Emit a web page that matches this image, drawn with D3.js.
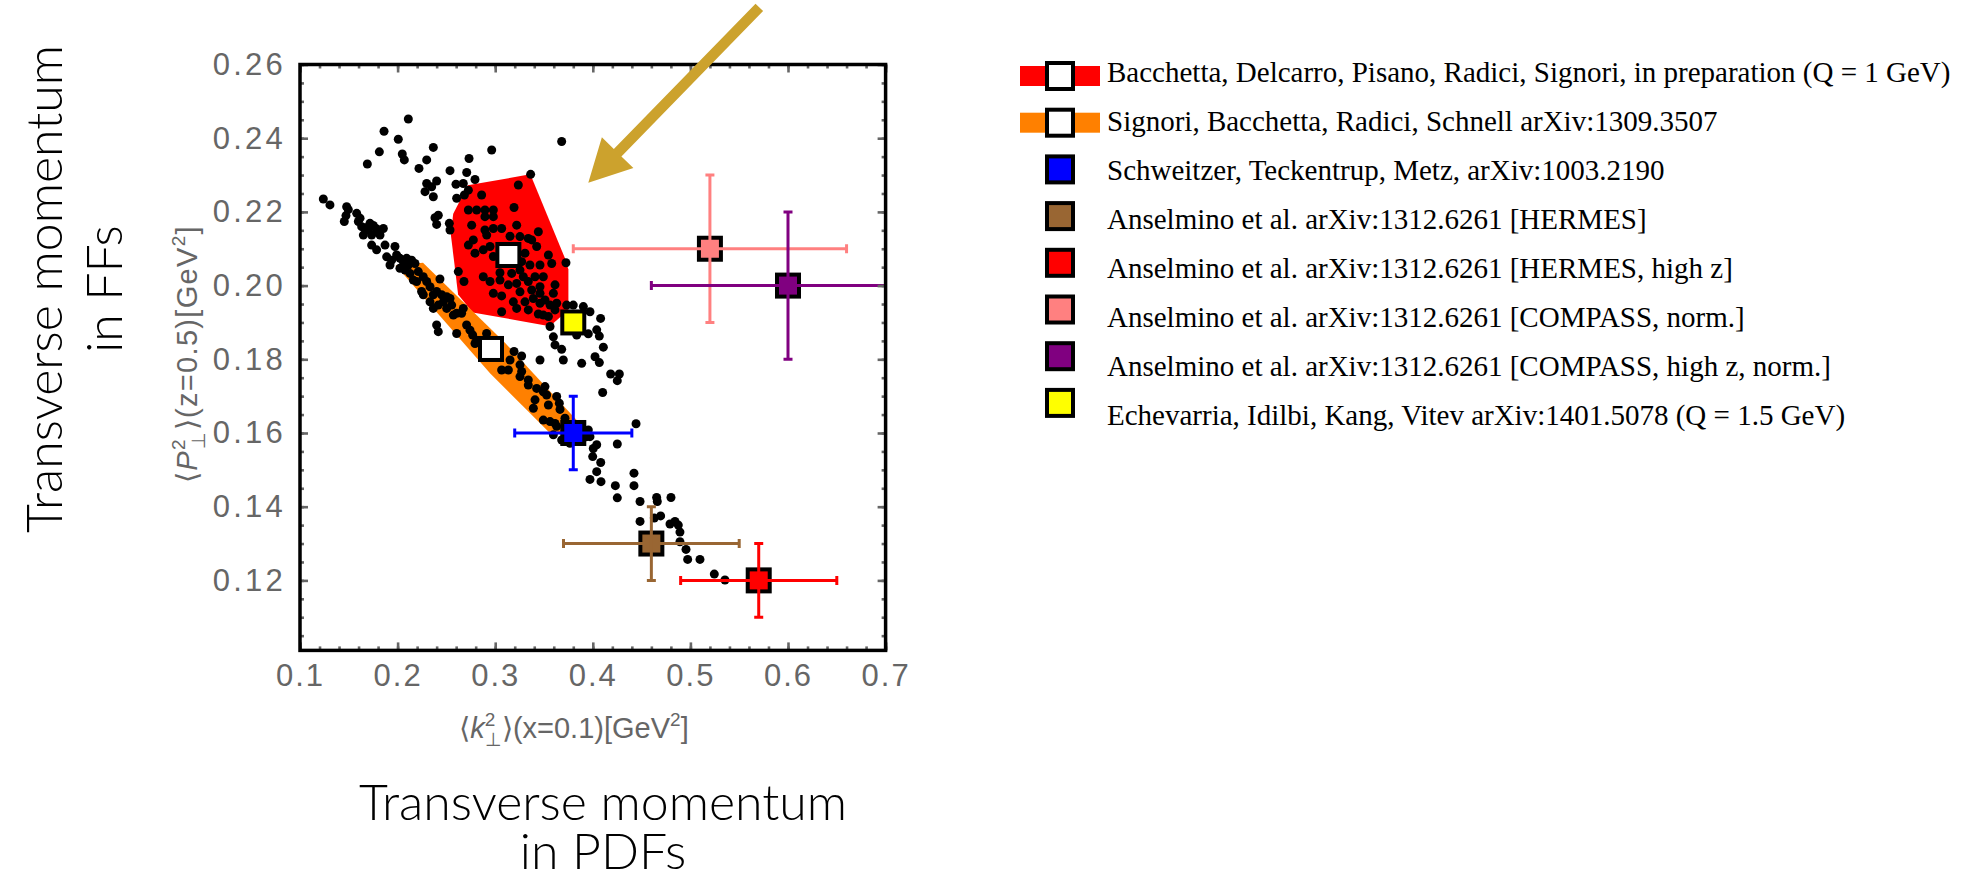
<!DOCTYPE html>
<html>
<head>
<meta charset="utf-8">
<script src="https://cdn.jsdelivr.net/npm/d3@7"></script>
<style>
  body { margin: 0; background: #fff; }
  svg { display: block; }
</style>
</head>
<body>
<svg id="chart" width="1968" height="879"></svg>
<script>
// axis ticks
const xTicks = [0.1, 0.2, 0.3, 0.4, 0.5, 0.6, 0.7];
const yTicks = [0.12, 0.14, 0.16, 0.18, 0.20, 0.22, 0.24, 0.26];

// replicas of the fit: <k_T^2>(x=0.1), <P_T^2>(z=0.5)
const replicaPoints = [
    [0.2110,0.2452],[0.1861,0.2419],[0.2007,0.2397],[0.1813,0.2363],[0.1690,0.2330],[0.2048,0.2357],[0.2069,0.2341],
    [0.2366,0.2375],[0.2298,0.2341],[0.2219,0.2318],[0.2537,0.2312],[0.2298,0.2277],[0.2400,0.2284],[0.2281,0.2255],
    [0.2366,0.2241],[0.2349,0.2268],[0.2598,0.2275],[0.2605,0.2237],[0.2673,0.2277],[0.2684,0.2246],
    [0.1239,0.2235],[0.1307,0.2219],[0.1478,0.2214],[0.1495,0.2206],[0.1454,0.2174],[0.1471,0.2190],[0.1581,0.2196],
    [0.1615,0.2183],[0.1598,0.2174],[0.1632,0.2160],[0.1649,0.2137],[0.1717,0.2169],[0.1751,0.2163],[0.1734,0.2137],
    [0.1700,0.2151],[0.1802,0.2146],[0.1854,0.2155],[0.1820,0.2137],[0.1734,0.2110],[0.1785,0.2097],[0.1871,0.2110],
    [0.1888,0.2078],[0.1922,0.2056],[0.1973,0.2106],[0.1990,0.2083],[0.2024,0.2074],[0.2059,0.2065],[0.2093,0.2074],
    [0.2144,0.2069],[0.2178,0.2060],[0.2024,0.2047],[0.2076,0.2042],[0.2127,0.2033],[0.2161,0.2015],[0.2195,0.2011],
    [0.2263,0.2024],[0.2298,0.2011],[0.2246,0.1984],[0.2263,0.1975],[0.2332,0.1997],[0.2366,0.1975],[0.2434,0.2018],
    [0.2400,0.1984],[0.2451,0.1975],[0.2417,0.1947],[0.2469,0.1956],[0.2503,0.1970],[0.2537,0.1965],[0.2554,0.1947],
    [0.2503,0.1938],[0.2571,0.1920],[0.2605,0.1925],[0.2656,0.1925],[0.2673,0.1938],[0.2400,0.1893],[0.2417,0.1875],
    [0.2605,0.1870],[0.2383,0.2184],[0.2417,0.2191],[0.2400,0.2166],[0.2530,0.2169],[0.2537,0.2151],[0.1676,0.2157],
    [0.1779,0.2155],[0.1939,0.2069],[0.2110,0.2056],[0.2212,0.2038],[0.2332,0.1956],[0.2366,0.1938],[0.2622,0.2038],
    [0.2680,0.2011],[0.2707,0.1893],[0.2742,0.1879],[0.2769,0.1866],[0.2810,0.1852],[0.2793,0.1843],[0.2861,0.1841],
    [0.2912,0.1870],
    [0.3681,0.2391],[0.2964,0.2368],[0.2732,0.2345],[0.2708,0.2307],[0.2793,0.2288],[0.2725,0.2259],[0.2861,0.2246],
    [0.3363,0.2302],[0.3237,0.2273],[0.3193,0.2212],[0.2981,0.2205],[0.2895,0.2205],[0.2810,0.2205],[0.2725,0.2205],
    [0.2895,0.2187],[0.3220,0.2164],[0.3066,0.2155],[0.2981,0.2155],[0.2895,0.2151],[0.2913,0.2137],[0.2776,0.2124],
    [0.2725,0.2110],[0.2793,0.2088],[0.2878,0.2097],[0.2947,0.2106],[0.2981,0.2079],[0.3152,0.2134],[0.3254,0.2133],
    [0.3339,0.2128],[0.3374,0.2124],[0.3442,0.2146],[0.3425,0.2106],[0.3305,0.2088],[0.3271,0.2065],[0.3356,0.2056],
    [0.3459,0.2056],[0.3545,0.2083],[0.3579,0.2060],[0.3725,0.2062],[0.3254,0.2042],[0.3169,0.2033],[0.3049,0.2035],
    [0.2878,0.2024],[0.2947,0.2011],[0.3049,0.2015],[0.3135,0.2002],[0.3220,0.2006],[0.3339,0.2011],[0.3408,0.2024],
    [0.3493,0.2024],[0.3459,0.1997],[0.3613,0.2002],[0.3254,0.1983],[0.2981,0.1979],[0.3066,0.1972],[0.3186,0.1956],
    [0.3220,0.1938],[0.3305,0.1956],[0.3391,0.1965],[0.3459,0.1979],[0.3510,0.1961],[0.3596,0.1979],[0.3459,0.1952],
    [0.3562,0.1947],[0.3613,0.1934],[0.3066,0.1929],[0.3442,0.1923],[0.3493,0.1920],[0.3545,0.1916],[0.3562,0.1889],
    [0.3630,0.1952],[0.3732,0.1947],[0.3800,0.1947],[0.3903,0.1943],[0.3971,0.1929],[0.4080,0.1911],[0.4040,0.1880],
    [0.3954,0.1869],[0.3835,0.1866],[0.4067,0.1863],[0.3596,0.1861],[0.2759,0.2164],[0.2981,0.2187],[0.3135,0.2106],
    [0.3100,0.2065],[0.3288,0.2024],[0.3374,0.1988],[0.3339,0.1934],
    [0.3193,0.1821],[0.3271,0.1809],[0.3152,0.1798],[0.3066,0.1771],[0.3135,0.1771],[0.3254,0.1785],[0.3271,0.1767],
    [0.3254,0.1753],[0.3339,0.1744],[0.3339,0.1730],[0.3459,0.1798],[0.3425,0.1721],[0.3510,0.1726],[0.3527,0.1703],
    [0.3493,0.1712],[0.3408,0.1690],[0.3391,0.1667],[0.3545,0.1676],[0.3630,0.1699],[0.3657,0.1681],[0.3664,0.1664],
    [0.3493,0.1635],[0.3562,0.1631],[0.3613,0.1626],[0.3715,0.1640],[0.3596,0.1595],[0.3681,0.1581],[0.3766,0.1572],
    [0.3954,0.1608],[0.3971,0.1590],[0.4040,0.1568],[0.4005,0.1558],[0.3999,0.1536],[0.4081,0.1520],[0.4040,0.1495],
    [0.3971,0.1474],[0.4084,0.1468],[0.4251,0.1570],[0.4443,0.1625],[0.3698,0.1798],[0.3886,0.1789],[0.4023,0.1807],
    [0.4067,0.1791],[0.4108,0.1833],[0.4183,0.1760],[0.4272,0.1760],[0.4251,0.1742],[0.4101,0.1710],[0.3681,0.1827],
    [0.3613,0.1839],[0.4231,0.1457],[0.4251,0.1424],[0.4422,0.1491],[0.4422,0.1457],[0.4484,0.1414],[0.4654,0.1425],
    [0.4661,0.1414],[0.4801,0.1425],[0.4484,0.1360],[0.4630,0.1369],[0.4695,0.1375],[0.4791,0.1353],[0.4842,0.1360],
    [0.4876,0.1350],[0.4893,0.1331],[0.4893,0.1305],[0.4955,0.1284],[0.4972,0.1257],[0.5098,0.1257],[0.5245,0.1217],
    [0.5354,0.1201],[0.3869,0.1617],[0.3937,0.1590],[0.3630,0.1618]
];

// 68% regions of the two fits
const bacchettaRegion = [
    [0.272,0.2272],[0.336,0.2302],[0.3715,0.2074],[0.375,0.2044],[0.375,0.1934],
    [0.356,0.1890],[0.277,0.1927],[0.262,0.1976],[0.2545,0.2140],[0.257,0.2195]
];
const signoriBand = [
    [0.198,0.2055],[0.226,0.2062],[0.310,0.1845],[0.386,0.1628],[0.384,0.1595],
    [0.356,0.1600],[0.2947,0.1762]
];

// reference extractions (legend order)
const refLabels = [
    "Bacchetta, Delcarro, Pisano, Radici, Signori, in preparation (Q = 1 GeV)",
    "Signori, Bacchetta, Radici, Schnell arXiv:1309.3507",
    "Schweitzer, Teckentrup, Metz, arXiv:1003.2190",
    "Anselmino et al. arXiv:1312.6261 [HERMES]",
    "Anselmino et al. arXiv:1312.6261 [HERMES, high z]",
    "Anselmino et al. arXiv:1312.6261 [COMPASS, norm.]",
    "Anselmino et al. arXiv:1312.6261 [COMPASS, high z, norm.]",
    "Echevarria, Idilbi, Kang, Vitev arXiv:1401.5078 (Q = 1.5 GeV)"
];
const refX    = [0.3135, 0.2957, 0.38, 0.46, 0.57, 0.52, 0.60, 0.38];
const refY    = [0.2083, 0.1828, 0.16, 0.13, 0.12, 0.21, 0.20, 0.19];
const refXErr = [0, 0, 0.06, 0.09, 0.08, 0.14, 0.14, 0];
const refYErr = [0, 0, 0.01, 0.01, 0.01, 0.02, 0.02, 0];

// annotation arrow (data coordinates)
const arrowFrom = [0.5706, 0.2755];
const arrowTo = [0.3954, 0.2279];

// styles
const refColors = ["#ffffff", "#ffffff", "#0000ff", "#996633", "#ff0000", "#ff8080", "#800080", "#ffff00"];
const bandColors = ["#ff0000", "#ff8000"];
const tickGray = "#666666";

const width = 1968, height = 879;
const margin = {top: 64.5, right: 1082.4, bottom: 228.6, left: 300};

const svg = d3.select("#chart");
svg.append("rect").attr("width", width).attr("height", height).attr("fill", "#fff");

const x = d3.scaleLinear().domain([0.1, 0.7]).range([margin.left, width - margin.right]);
const y = d3.scaleLinear().domain([0.101, 0.26]).range([height - margin.bottom, margin.top]);

svg.append("clipPath").attr("id", "plot-clip")
    .append("rect")
    .attr("x", x(0.1)).attr("y", y(0.26))
    .attr("width", x(0.7) - x(0.1)).attr("height", y(0.101) - y(0.26));

const plot = svg.append("g").attr("clip-path", "url(#plot-clip)");

const line = d3.line().x(d => x(d[0])).y(d => y(d[1])).curve(d3.curveLinearClosed);

plot.append("path").datum(bacchettaRegion).attr("d", line).attr("fill", bandColors[0]);
plot.append("path").datum(signoriBand).attr("d", line).attr("fill", bandColors[1]);

plot.append("g")
    .selectAll("circle")
    .data(replicaPoints)
    .join("circle")
    .attr("cx", d => x(d[0]))
    .attr("cy", d => y(d[1]))
    .attr("r", 4.5)
    .attr("fill", "#000");

const refs = refLabels.map((label, i) => ({
    label, x: refX[i], y: refY[i], xErr: refXErr[i], yErr: refYErr[i], color: refColors[i]
}));

const markerSize = 22;
plot.append("g")
    .selectAll("rect")
    .data(refs)
    .join("rect")
    .attr("x", d => x(d.x) - markerSize / 2)
    .attr("y", d => y(d.y) - markerSize / 2)
    .attr("width", markerSize)
    .attr("height", markerSize)
    .attr("fill", d => d.color)
    .attr("stroke", "#000")
    .attr("stroke-width", 4);

// error bars, drawn over the markers
const capHalf = 4.5;
const bars = plot.append("g")
    .attr("stroke-width", 3)
    .selectAll("g")
    .data(refs.filter(d => d.xErr > 0))
    .join("g")
    .attr("stroke", d => d.color);

bars.append("line")
    .attr("x1", d => x(d.x - d.xErr)).attr("x2", d => x(d.x + d.xErr))
    .attr("y1", d => y(d.y)).attr("y2", d => y(d.y));
bars.append("line")
    .attr("x1", d => x(d.x)).attr("x2", d => x(d.x))
    .attr("y1", d => y(d.y - d.yErr)).attr("y2", d => y(d.y + d.yErr));
bars.append("path")
    .attr("d", d => {
        const xl = x(d.x - d.xErr), xr = x(d.x + d.xErr), yc = y(d.y);
        const yt = y(d.y + d.yErr), yb = y(d.y - d.yErr), xc = x(d.x);
        return `M${xl},${yc - capHalf}V${yc + capHalf}M${xr},${yc - capHalf}V${yc + capHalf}` +
               `M${xc - capHalf},${yt}H${xc + capHalf}M${xc - capHalf},${yb}H${xc + capHalf}`;
    });

// frame ticks on all four sides, pointing inward
const xMinor = d3.range(5, 36, 1).map(i => i / 50);
const yMinor = d3.range(21, 53, 1).map(i => i / 200);

function styleAxis(g, spacing = 2) {
    g.select(".domain").remove();
    g.selectAll(".tick line").attr("stroke", tickGray).attr("stroke-width", 2.6);
    g.selectAll(".tick text").filter(function() { return this.textContent === ""; }).remove();
    g.selectAll(".tick text")
        .attr("fill", tickGray)
        .attr("font-family", "Liberation Sans, Arial, sans-serif")
        .attr("font-size", 31)
        .attr("letter-spacing", spacing);
}

const yBottom = y(0.101), yTop = y(0.26), xLeft = x(0.1), xRight = x(0.7);

svg.append("g").attr("transform", `translate(0,${yBottom})`)
    .call(d3.axisBottom(x).tickValues(xMinor).tickSize(-4).tickFormat(""))
    .call(styleAxis);
svg.append("g").attr("transform", `translate(0,${yBottom})`)
    .call(d3.axisBottom(x).tickValues(xTicks).tickSize(-8).tickPadding(14).tickFormat(d3.format(".1f")))
    .call(styleAxis);
svg.append("g").attr("transform", `translate(0,${yTop})`)
    .call(d3.axisTop(x).tickValues(xMinor).tickSize(-4).tickFormat(""))
    .call(styleAxis);
svg.append("g").attr("transform", `translate(0,${yTop})`)
    .call(d3.axisTop(x).tickValues(xTicks).tickSize(-8).tickFormat(""))
    .call(styleAxis);
svg.append("g").attr("transform", `translate(${xLeft},0)`)
    .call(d3.axisLeft(y).tickValues(yMinor).tickSize(-4).tickFormat(""))
    .call(styleAxis);
svg.append("g").attr("transform", `translate(${xLeft},0)`)
    .call(d3.axisLeft(y).tickValues(yTicks).tickSize(-8).tickPadding(14).tickFormat(d3.format(".2f")))
    .call(g => styleAxis(g, 3.2));
svg.append("g").attr("transform", `translate(${xRight},0)`)
    .call(d3.axisRight(y).tickValues(yMinor).tickSize(-4).tickFormat(""))
    .call(styleAxis);
svg.append("g").attr("transform", `translate(${xRight},0)`)
    .call(d3.axisRight(y).tickValues(yTicks).tickSize(-8).tickFormat(""))
    .call(styleAxis);

svg.append("rect")
    .attr("x", xLeft).attr("y", yTop)
    .attr("width", xRight - xLeft).attr("height", yBottom - yTop)
    .attr("fill", "none")
    .attr("stroke", "#000")
    .attr("stroke-width", 3.5);

// axis labels  <k_perp^2>(x=0.1)[GeV^2], stretched to the span they take in the original
function momentLabel(g, letter, tail, span) {
    const text = g.append("text")
        .attr("font-family", "Liberation Sans, Arial, sans-serif")
        .attr("font-size", 29)
        .attr("fill", tickGray);
    text.append("tspan").text("\u27E8");
    text.append("tspan").attr("font-style", "italic").text(letter);
    text.append("tspan").attr("font-size", 19).attr("dy", -12).text("2");
    text.append("tspan").attr("font-size", 19).attr("dx", -10.5).attr("dy", 20).text("\u22A5");
    text.append("tspan").attr("dy", -8).text("\u27E9" + tail);
    text.append("tspan").attr("font-size", 19).attr("dy", -12).text("2");
    text.append("tspan").attr("dy", 12).text("]");

    const nChars = text.text().length;
    const natural = text.node().getBBox().width;
    text.attr("letter-spacing", Math.max(0, (span - natural) / nChars));
    const box = text.node().getBBox();
    text.attr("x", -(box.x + box.width / 2));
}

svg.append("g")
    .attr("transform", "translate(574,738)")
    .call(g => momentLabel(g, "k", "(x=0.1)[GeV", 210));

svg.append("g")
    .attr("transform", "translate(197,354) rotate(-90)")
    .call(g => momentLabel(g, "P", "(z=0.5)[GeV", 258));

// big slide titles
const titleFont = "Lato, 'Open Sans', sans-serif";
const bottomTitle = svg.append("text")
    .attr("text-anchor", "middle")
    .attr("font-family", titleFont)
    .attr("font-weight", 300)
    .attr("font-size", 50)
    .attr("fill", "#000");
bottomTitle.append("tspan").attr("x", 603).attr("y", 820).text("Transverse momentum");
bottomTitle.append("tspan").attr("x", 603).attr("y", 869).text("in PDFs");

const leftTitle = svg.append("text")
    .attr("transform", "translate(0,289) rotate(-90)")
    .attr("text-anchor", "middle")
    .attr("font-family", titleFont)
    .attr("font-weight", 300)
    .attr("font-size", 50)
    .attr("fill", "#000");
leftTitle.append("tspan").attr("x", 0).attr("y", 62).text("Transverse momentum");
leftTitle.append("tspan").attr("x", 0).attr("y", 122).text("in FFs");

// arrow pointing at the new fit
function arrowPath(from, to, shaft, headLen, headHalf) {
    const x0 = x(from[0]), y0 = y(from[1]), x1 = x(to[0]), y1 = y(to[1]);
    const len = Math.hypot(x1 - x0, y1 - y0);
    const ux = (x1 - x0) / len, uy = (y1 - y0) / len;
    const px = -uy, py = ux;
    const bx = x1 - ux * headLen, by = y1 - uy * headLen;
    const pts = [
        [x0 + px * shaft, y0 + py * shaft],
        [bx + px * shaft, by + py * shaft],
        [bx + px * headHalf, by + py * headHalf],
        [x1, y1],
        [bx - px * headHalf, by - py * headHalf],
        [bx - px * shaft, by - py * shaft],
        [x0 - px * shaft, y0 - py * shaft]
    ];
    return "M" + pts.map(p => p.join(",")).join("L") + "Z";
}

svg.append("path")
    .attr("d", arrowPath(arrowFrom, arrowTo, 5.3, 42, 22))
    .attr("fill", "#cca22d");

// legend
const legend = svg.append("g");
const legendItems = legend.selectAll("g")
    .data(refs)
    .join("g");

legendItems.filter((d, i) => i < 2)
    .append("rect")
    .attr("x", 1020).attr("y", (d, i) => 76 + i * 46.7 - 10)
    .attr("width", 80).attr("height", 20)
    .attr("fill", (d, i) => bandColors[i]);

legendItems.append("rect")
    .attr("x", 1060 - 13).attr("y", (d, i) => 76 + i * 46.7 - 13)
    .attr("width", 26).attr("height", 26)
    .attr("fill", d => d.color)
    .attr("stroke", "#000")
    .attr("stroke-width", 4);

legendItems.append("text")
    .attr("x", 1107)
    .attr("y", (d, i) => 71.7 + i * 49)
    .attr("dy", "0.35em")
    .attr("font-family", "Liberation Serif, 'Times New Roman', serif")
    .attr("font-size", 29)
    .attr("fill", "#000")
    .text(d => d.label);
</script>
</body>
</html>
